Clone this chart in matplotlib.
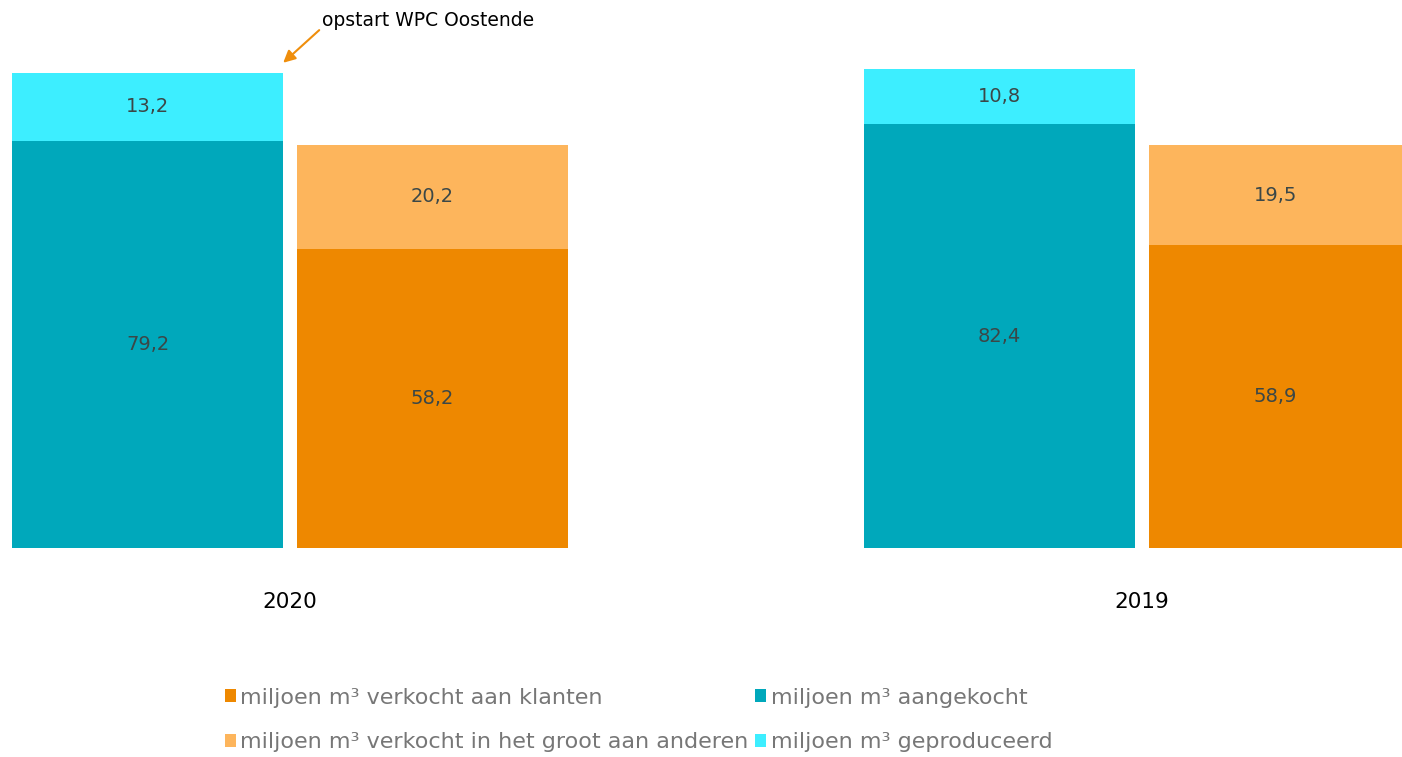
import numpy as np
import matplotlib.pyplot as plt

# waarden in miljoen m³
jaren = ["2020", "2019"]
aangekocht = [79.2, 82.4]
geproduceerd = [13.2, 10.8]
verkocht_klanten = [58.2, 58.9]
verkocht_groot = [20.2, 19.5]

kleur_aangekocht = '#00a8bb'
kleur_geproduceerd = '#3deeff'
kleur_klanten = '#ee8800'
kleur_groot = '#fdb55c'
kleur_label = '#3b4747'

fig = plt.figure(figsize=(14.02, 7.57), dpi=100)
ax = fig.add_axes([0, 209 / 757, 1, 548 / 757])

x = np.arange(len(jaren))
breedte = 0.318
offset = 0.167

b1 = ax.bar(x - offset, aangekocht, breedte, color=kleur_aangekocht, label='miljoen m³ aangekocht')
b2 = ax.bar(x - offset, geproduceerd, breedte, bottom=aangekocht, color=kleur_geproduceerd,
            label='miljoen m³ geproduceerd')
b3 = ax.bar(x + offset, verkocht_klanten, breedte, color=kleur_klanten,
            label='miljoen m³ verkocht aan klanten')
b4 = ax.bar(x + offset, verkocht_groot, breedte, bottom=verkocht_klanten, color=kleur_groot,
            label='miljoen m³ verkocht in het groot aan anderen')

for bars in (b1, b2, b3, b4):
    ax.bar_label(bars, labels=[f"{v:.1f}".replace('.', ',') for v in bars.datavalues],
                 label_type='center', fontsize=14, color=kleur_label)

ax.set_xlim(-290 / 852, (1402 - 290) / 852)
ax.set_ylim(0, 548 / 5.14)
ax.set_xticks(x)
ax.set_xticklabels(jaren, fontsize=15.5)
ax.tick_params(axis='x', length=0, pad=32)
ax.set_yticks([])
for s in ax.spines.values():
    s.set_visible(False)

# annotatie bij de bovenkant van de 2020-balk
ax.annotate("opstart WPC Oostende",
            xy=(b2[0].get_x() + b2[0].get_width(), aangekocht[0] + geproduceerd[0] + 2),
            xytext=(322 / 1402, 1 - 20 / 757), textcoords='figure fraction',
            fontsize=13.5, va='center', ha='left', color='black',
            arrowprops=dict(arrowstyle='-|>', color='#ef8e0c', lw=1.5, mutation_scale=18,
                            shrinkA=0, shrinkB=0, relpos=(0, 0.1)),
            annotation_clip=False)

handles = [b3, b4, b1, b2]
fig.legend(handles, [h.get_label() for h in handles], ncol=2, frameon=False,
           loc='upper left', bbox_to_anchor=(0.146, 0.118), fontsize=16,
           labelcolor='#777777', handlelength=0.5, handleheight=0.5,
           handletextpad=0.2, columnspacing=0.3, labelspacing=1.1)

fig.savefig('out.png', dpi=100)
